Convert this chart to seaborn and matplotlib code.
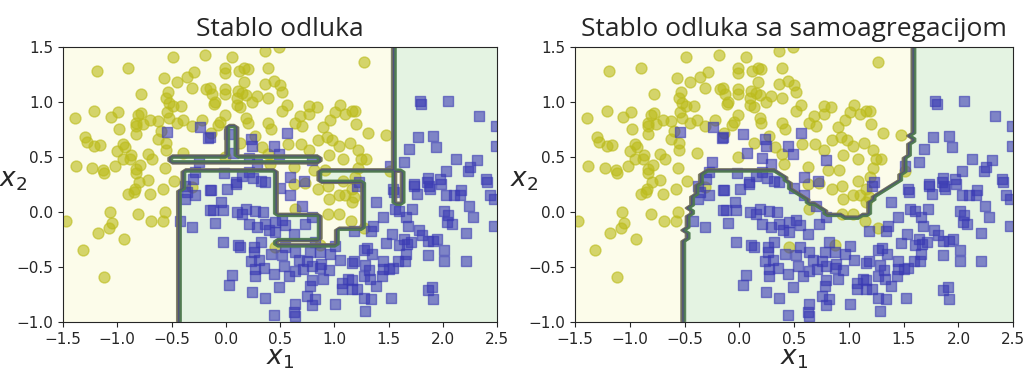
import numpy as np
import pandas as pd
import seaborn as sns
import matplotlib
matplotlib.use("Agg")
import matplotlib.pyplot as plt
from matplotlib.colors import ListedColormap
from matplotlib.path import Path

# class 0 (yellow circles), (x1, x2)
moon_a = [
    (-0.49, 1.41), (-0.19, 1.43), (-1.19, 1.28), (-0.90, 1.31), (-0.57, 1.22), (-0.36, 1.23), (-0.29, 1.27),
    (-0.45, 1.18), (-0.31, 1.13), (-0.53, 1.09), (-0.55, 1.04), (-0.78, 1.07), (-0.18, 1.12), (-0.52, 0.99),
    (-0.49, 0.96), (-0.41, 0.96), (-1.21, 0.92), (-1.06, 0.86), (-0.99, 0.91), (-1.39, 0.85), (-0.81, 0.88),
    (-0.78, 0.90), (-0.83, 0.81), (-0.70, 0.84), (-0.62, 0.83), (-0.54, 0.91), (-0.52, 0.85), (-0.39, 0.84),
    (-0.45, 0.81), (-0.31, 0.78), (-0.22, 0.84), (-0.98, 0.75), (-0.83, 0.78), (-0.83, 0.71), (-0.76, 0.80),
    (-0.60, 0.74), (-1.30, 0.68), (-1.28, 0.64), (-1.21, 0.60), (-1.16, 0.61), (-0.95, 0.62), (-0.93, 0.59),
    (-0.62, 0.66), (-0.55, 0.63), (-0.55, 0.56), (-1.00, 0.55), (-0.87, 0.52), (-0.72, 0.53), (-0.68, 0.48),
    (-0.95, 0.48), (-0.88, 0.48), (-0.39, 0.54), (-1.38, 0.42), (-1.23, 0.40), (-1.13, 0.38), (-1.12, 0.35),
    (-1.02, 0.42), (-0.79, 0.43), (-0.83, 0.39), (-0.83, 0.35), (-0.80, 0.27), (-0.72, 0.29), (-0.56, 0.40),
    (-0.48, 0.28),
    (0.36, 1.46), (0.49, 1.50), (0.06, 1.41), (-0.01, 1.31), (-0.01, 1.26), (0.17, 1.31), (0.20, 1.30),
    (0.12, 1.28), (0.39, 1.31), (0.17, 1.18), (0.36, 1.16), (0.44, 1.19), (0.50, 1.15), (0.52, 1.09),
    (-0.15, 1.13), (-0.13, 1.07), (-0.01, 1.12), (-0.01, 1.07), (0.11, 1.10), (0.15, 1.08), (0.19, 1.06),
    (0.29, 1.05), (0.39, 1.04), (0.10, 1.04), (0.24, 1.00), (-0.11, 0.98), (-0.10, 1.00), (0.13, 0.95),
    (0.10, 0.97), (0.52, 0.92), (0.56, 0.97), (0.77, 0.96), (0.84, 0.95), (1.05, 0.97), (1.01, 0.91),
    (1.10, 0.89), (1.16, 0.92), (0.77, 0.89), (0.68, 0.87), (0.64, 0.81), (0.70, 0.78), (-0.01, 0.88),
    (-0.05, 0.82), (-0.07, 0.79), (0.19, 0.85), (0.20, 0.81), (0.39, 0.81), (0.42, 0.75), (0.90, 0.77),
    (0.96, 0.84), (0.93, 0.68), (0.98, 0.65), (1.04, 0.60), (1.14, 0.63), (0.85, 0.65), (0.57, 0.62),
    (0.69, 0.62), (0.33, 0.59), (0.13, 0.63), (0.27, 0.69), (-0.14, 0.72), (0.77, 0.56), (0.95, 0.52),
    (1.08, 0.48), (-0.01, 0.50), (0.39, 0.53), (0.63, 0.41), (0.81, 0.38), (0.91, 0.38), (1.08, 0.28),
    (0.41, 0.44),
    (1.27, 1.36), (1.19, 0.92), (1.20, 0.80), (1.31, 0.72), (1.48, 0.70), (1.22, 0.56), (1.25, 0.48),
    (1.29, 0.48), (1.22, 0.40), (1.19, 0.32), (1.51, 0.37),
    (-0.84, 0.21), (-0.90, 0.16), (-0.85, 0.18), (-0.70, 0.16), (-0.58, 0.21), (-1.47, -0.08), (-1.07, 0.00),
    (-1.05, -0.10), (-1.08, -0.15), (-1.18, -0.19), (-0.81, -0.02), (-0.56, 0.00), (-0.69, -0.08),
    (-0.58, -0.08), (-0.94, -0.25), (-1.32, -0.35), (-1.12, -0.59), (-0.31, 0.23),
    (0.63, 0.25), (0.73, 0.26), (0.85, 0.21), (0.94, 0.24), (0.95, 0.12), (1.04, 0.15), (1.10, 0.15),
    (1.16, 0.21), (1.16, 0.09), (0.94, -0.02), (1.04, -0.02), (0.64, 0.03), (1.15, -0.08), (0.87, -0.30),
    (0.45, -0.32), (1.18, 0.14), (1.27, -0.15),
]

# class 1 (blue squares)
moon_b = [
    (-0.54, 0.73), (-0.24, 0.77), (-0.16, 0.67), (-0.25, 0.45), (-0.28, 0.36), (-0.30, 0.30),
    (-0.15, 0.68), (0.03, 0.71), (0.23, 0.66), (0.24, 0.60), (0.07, 0.54), (0.21, 0.49), (0.29, 0.44),
    (0.44, 0.60), (0.49, 0.53), (0.56, 0.72), (0.79, 0.47), (-0.02, 0.35), (0.15, 0.33), (0.21, 0.36),
    (0.25, 0.31), (0.32, 0.28), (0.36, 0.27), (0.59, 0.32), (0.72, 0.28), (0.09, 0.27),
    (1.79, 1.01), (1.80, 0.98), (2.05, 1.01), (2.33, 0.87), (2.49, 0.78), (1.77, 0.68), (1.91, 0.69),
    (1.94, 0.59), (1.69, 0.57), (1.64, 0.45), (2.12, 0.48), (2.31, 0.47), (2.25, 0.41), (2.23, 0.37),
    (2.03, 0.37), (2.40, 0.30), (1.51, 0.42), (2.49, 0.60), (1.86, 0.31), (1.97, 0.30), (1.73, 0.25),
    (1.85, 0.27), (1.23, 0.27),
    (-0.38, 0.24), (-0.36, 0.18), (-0.28, 0.15), (-0.38, 0.12), (-0.42, -0.08), (-0.31, -0.14),
    (-0.15, 0.20), (-0.15, 0.02),
    (-0.14, 0.20), (0.01, 0.21), (0.09, 0.25), (-0.04, 0.09), (-0.03, 0.02), (-0.12, 0.02), (-0.10, -0.10),
    (0.10, 0.00), (0.15, -0.02), (0.19, 0.03), (0.34, 0.00), (0.27, 0.01), (0.21, -0.11), (0.29, -0.14),
    (0.36, -0.11), (0.40, -0.16), (0.45, -0.18), (0.45, -0.09), (0.55, -0.12), (0.52, -0.07), (0.70, 0.05),
    (0.73, -0.11), (0.79, -0.05), (0.63, -0.20), (-0.03, -0.27), (0.11, -0.30), (0.13, -0.32), (0.26, -0.32),
    (0.26, -0.36), (0.32, -0.27), (0.42, -0.38), (0.55, -0.32), (0.52, -0.39), (0.64, -0.36), (0.67, -0.44),
    (0.75, -0.45), (0.78, -0.36), (0.82, -0.27), (0.87, -0.36), (0.96, -0.38), (1.01, -0.31), (1.05, -0.44),
    (1.16, -0.46), (0.23, -0.45), (0.31, -0.44), (0.27, -0.52), (0.27, -0.58), (0.35, -0.51), (0.44, -0.56),
    (0.54, -0.49), (0.58, -0.58), (0.64, -0.54), (0.71, -0.52), (0.79, -0.49), (0.87, -0.51), (0.88, -0.47),
    (0.95, -0.53), (0.90, -0.61), (0.06, -0.57), (0.03, -0.66), (0.24, -0.73), (0.36, -0.78), (0.49, -0.68),
    (0.79, -0.62), (0.78, -0.67), (0.75, -0.76), (0.82, -0.79), (0.79, -0.85), (0.64, -0.84), (0.63, -0.91),
    (0.64, -0.95), (0.44, -0.94), (1.01, -0.84), (1.07, -0.65), (1.07, -0.70), (1.13, -0.61), (1.16, -0.70),
    (0.59, 0.15), (0.50, 0.22),
    (1.21, 0.24), (1.54, 0.21), (1.55, 0.18), (1.73, 0.24), (1.76, 0.16), (1.87, 0.24), (1.88, 0.21),
    (1.98, 0.25), (2.03, 0.15), (2.10, 0.15), (2.17, 0.20), (2.16, 0.15), (2.41, 0.27), (2.43, 0.15),
    (2.47, 0.12), (1.38, 0.09), (1.56, 0.03), (1.60, 0.01), (1.72, 0.03), (1.66, -0.05), (1.68, -0.13),
    (1.45, -0.05), (2.01, 0.01), (2.05, -0.03), (2.04, -0.09), (2.08, -0.11), (2.24, 0.05), (2.28, -0.05),
    (2.47, -0.13), (2.21, -0.19), (1.78, -0.16), (1.81, -0.21), (1.86, -0.26), (1.91, -0.26), (1.95, -0.25),
    (1.36, -0.13), (1.34, -0.17), (1.18, -0.17), (1.53, -0.20), (1.48, -0.28), (1.64, -0.25), (1.60, -0.30),
    (1.67, -0.29), (1.71, -0.27), (1.66, -0.38), (1.65, -0.45), (1.59, -0.45), (1.86, -0.39), (2.01, -0.35),
    (2.01, -0.45), (2.21, -0.45), (1.27, -0.35), (1.30, -0.33), (1.35, -0.38), (1.18, -0.45), (1.28, -0.48),
    (1.32, -0.53), (1.27, -0.58), (1.33, -0.61), (1.45, -0.45), (1.45, -0.52), (1.44, -0.58), (1.50, -0.52),
    (1.54, -0.51), (1.38, -0.67), (1.21, -0.70), (1.27, -0.78), (1.34, -0.79), (1.52, -0.78), (1.28, -0.90),
    (1.86, -0.71), (1.90, -0.68), (1.91, -0.79), (1.16, -0.62),
]

# decision tree regions: (x1 from, x1 to, x2 from, x2 to, class), painted in order on class 0
tree_boxes = [
    (1.55, 2.6, -1.1, 1.6, 1),
    (-0.42, 1.55, -1.1, 0.20, 1),
    (-0.37, 1.55, 0.20, 0.37, 1),
    (-0.53, 0.85, 0.44, 0.50, 1),
    (0.02, 0.11, 0.50, 0.77, 1),
    (0.45, 0.85, -0.03, 0.37, 0),
    (0.85, 1.04, -0.30, 0.27, 0),
    (1.04, 1.28, -0.15, 0.27, 0),
    (0.47, 0.85, -0.30, -0.25, 0),
    (1.55, 1.62, 0.08, 0.37, 0),
]

# bagging ensemble: outline of the class 0 region
bag_outline = [
    (-1.6, -1.1), (-0.52, -1.1), (-0.51, -0.32), (-0.50, -0.27), (-0.44, -0.23), (-0.50, -0.18),
    (-0.47, -0.11), (-0.48, -0.06), (-0.42, -0.02), (-0.46, 0.03), (-0.41, 0.15), (-0.37, 0.25),
    (-0.34, 0.33), (-0.29, 0.37), (0.35, 0.37), (0.44, 0.28), (0.48, 0.20), (0.57, 0.14), (0.66, 0.07),
    (0.76, 0.03), (0.78, -0.02), (0.87, -0.03), (1.03, -0.05), (1.15, -0.03), (1.21, 0.00), (1.18, 0.05),
    (1.24, 0.15), (1.36, 0.21), (1.40, 0.24), (1.45, 0.28), (1.49, 0.35), (1.52, 0.46), (1.54, 0.52),
    (1.56, 0.59), (1.58, 0.65), (1.56, 0.70), (1.60, 0.75), (1.60, 1.6), (-1.6, 1.6),
]

titles = ["Stablo odluka", "Stablo odluka sa samoagregacijom"]

sns.set_style("ticks")
plt.rcParams['font.family'] = ['DejaVu Sans']

g1, g2 = np.meshgrid(np.linspace(-1.5, 2.5, 100), np.linspace(-1, 1.5, 100))

tree_pred = np.zeros_like(g1)
for xa, xb, ya, yb, c in tree_boxes:
    tree_pred[(g1 >= xa) & (g1 < xb) & (g2 >= ya) & (g2 < yb)] = c

inside = Path(bag_outline).contains_points(np.c_[g1.ravel(), g2.ravel()])
bag_pred = np.where(inside, 0, 1).reshape(g1.shape).astype(float)

df = pd.concat([
    pd.DataFrame(moon_a, columns=["x1", "x2"]).assign(cls=0),
    pd.DataFrame(moon_b, columns=["x1", "x2"]).assign(cls=1),
])

fill_cmap = ListedColormap(['#f6f6bc', '#9898ff', '#a6d8a0'])
line_cmap = ListedColormap(['#6f6f58', '#4c4c7f', '#4f7a4f'])

fig = plt.figure(figsize=(10.24, 3.73), dpi=100)
ax1 = fig.add_axes([0.0615, 0.137, 0.424, 0.737])
ax2 = fig.add_axes([0.5615, 0.137, 0.428, 0.737])

for ax, pred, title in zip([ax1, ax2], [tree_pred, bag_pred], titles):
    ax.contourf(g1, g2, pred, alpha=0.3, cmap=fill_cmap)
    ax.contour(g1, g2, pred, cmap=line_cmap, alpha=0.8)
    sns.scatterplot(data=df[df.cls == 0], x="x1", y="x2", marker="o", color="#bcbc1c",
                    edgecolor="#bcbc1c", alpha=0.62, s=62, linewidth=1, ax=ax)
    sns.scatterplot(data=df[df.cls == 1], x="x1", y="x2", marker="s", color="#3a3ab4",
                    edgecolor="#3a3ab4", alpha=0.6, s=52, linewidth=1, ax=ax)
    ax.set_xlim(-1.5, 2.5)
    ax.set_ylim(-1, 1.5)
    ax.set_xticks(np.arange(-1.5, 2.51, 0.5))
    ax.set_yticks(np.arange(-1.0, 1.51, 0.5))
    ax.tick_params(labelsize=11)
    ax.set_xlabel("$x_1$", fontsize=19, labelpad=-1)
    ax.set_ylabel("$x_2$", fontsize=19, rotation=0, ha="center")
    ax.yaxis.set_label_coords(-0.115, 0.47)
    ax.set_title(title, fontsize=19, family=["Open Sans", "DejaVu Sans"], pad=8)

fig.savefig("out.png", dpi=100)
